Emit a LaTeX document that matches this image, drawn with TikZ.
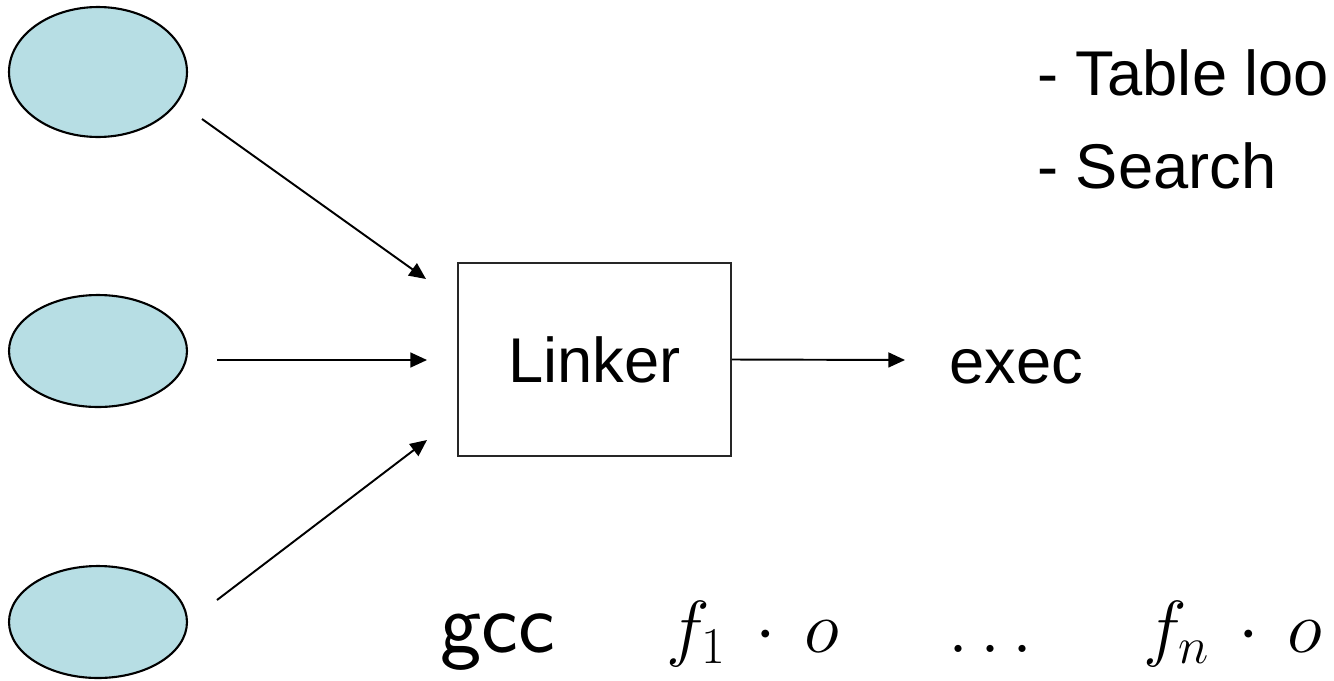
\RequirePackage{fix-cm}
\documentclass[tikz,border=0pt]{standalone}
\usepackage{fontspec}
\newfontfamily\arial{Liberation Sans}
\usetikzlibrary{arrows.meta,shapes.geometric}
\definecolor{objblue}{RGB}{183,222,228}
\tikzset{
  objfile/.style={ellipse,draw,line width=1.2pt,fill=objblue,inner sep=0pt,minimum width=3.56cm,minimum height=2.24cm},
  linkbox/.style={draw=black!85,line width=1.2pt,minimum width=5.46cm,minimum height=3.86cm,inner sep=0pt,font=\arial\fontsize{36}{43}\selectfont},
  flow/.style={-{Triangle[length=9.5pt,width=8.5pt]},line width=1.1pt},
  txt/.style={inner sep=0pt,anchor=base west},
  sans/.style={font=\arial\fontsize{36}{43}\selectfont},
  maths/.style={font=\fontsize{42}{50}\selectfont},
}
\begin{document}
\begin{tikzpicture}[x=0.02cm,y=-0.02cm]
\useasboundingbox (0,0) rectangle (1334,680);
% object files
\node[objfile,minimum height=2.6cm] (obj1) at (98,72) {};
\node[objfile] (obj2) at (98,351) {};
\node[objfile] (obj3) at (98,622) {};
% linker and output
\node[linkbox] (linker) at (594.5,359.5) {Linker};
\node[txt,sans] (exec) at (949,383) {exec};
\node[txt,sans] (lookup) at (1037,95) {- Table loo};
\node[txt,sans] (search) at (1037,188) {- Search};
% arrow ends
\coordinate (out1) at (202,119);
\coordinate (in1) at (426,279);
\coordinate (out2) at (217,360);
\coordinate (in2) at (427,360);
\coordinate (out3) at (217,600);
\coordinate (in3) at (427,440);
\coordinate (res) at (905,360);
\draw[flow] (out1) -- (in1);
\draw[flow] (out2) -- (in2);
\draw[flow] (out3) -- (in3);
\draw[flow] (linker.east) -- (res);
% bottom line
\node[txt,font=\fontsize{50}{60}\selectfont\sffamily] (gcc) at (440,652) {gcc};
\node[txt,maths] (fone) at (666,652) {$f_1\,\cdot\,o$};
\node[txt,maths] (dots) at (948,652) {$\ldots$};
\node[txt,maths] (fn) at (1143,652) {$f_n\,\cdot\,o$};
\end{tikzpicture}
\end{document}
